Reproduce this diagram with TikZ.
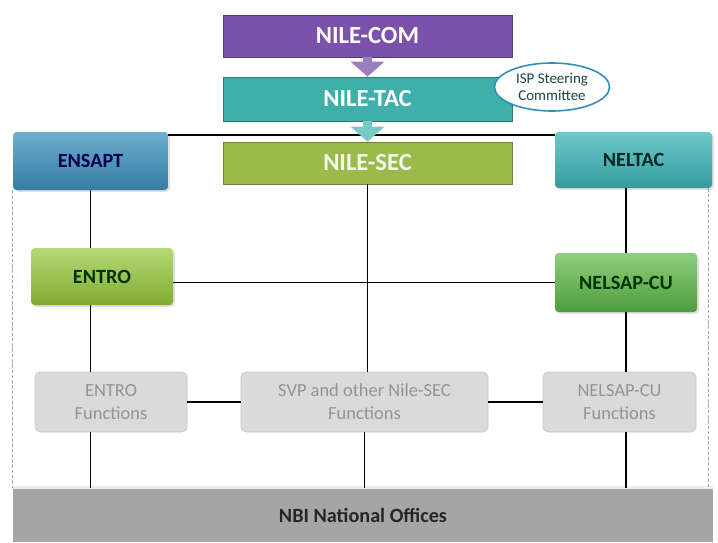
\documentclass[tikz,border=0pt]{standalone}
\usepackage{fontspec}
\setmainfont{Carlito}
\usepackage{tikz}
\usetikzlibrary{arrows.meta,shapes.geometric,shadows}
\definecolor{comviolet}{HTML}{7B52AB}
\definecolor{tacteal}{HTML}{3FB0A9}
\definecolor{secolive}{HTML}{9BBA4C}
\definecolor{ensblue}{HTML}{3F93BF}
\definecolor{nelteal}{HTML}{3DB7B8}
\definecolor{entgreen}{HTML}{97C93A}
\definecolor{nelgreen}{HTML}{5CB947}
\definecolor{fungray}{HTML}{DADADA}
\definecolor{nbigray}{HTML}{A5A5A5}
\def\px{0.02cm}
\def\drawlink{\draw[line width=1pt]}
\def\drawdash{\draw[gray!70, line width=0.6pt, dash pattern=on 2pt off 1pt]}
\tikzset{
  topbox/.style={rectangle, minimum width=289*\px, text=white,
    font=\fontsize{14}{16}\selectfont\bfseries},
  unitbox/.style={rectangle, rounded corners=2pt, inner sep=2pt,
    drop shadow={opacity=0.25, shadow xshift=1pt, shadow yshift=-1pt},
    font=\fontsize{11.5}{13}\selectfont\bfseries},
  funbox/.style={rectangle, rounded corners=3pt, fill=fungray, draw=gray!45,
    minimum height=60*\px, text=gray!85, align=center,
    font=\fontsize{10.5}{13}\selectfont},
  blockarrow/.style={line width=9*\px, -{Triangle[width=33*\px, length=15*\px]}}
}

\begin{document}
\begin{tikzpicture}[x=\px, y=-\px]
\useasboundingbox (0,0) rectangle (718,542);
% top column
\node[topbox, minimum height=42*\px, fill=comviolet, draw=comviolet!70!black] (com) at (367.5,36) {NILE-COM};
\node[topbox, minimum height=44*\px, fill=tacteal, draw=tacteal!70!black] (tac) at (367.5,99) {NILE-TAC};
\node[topbox, minimum height=42*\px, fill=secolive, draw=secolive!70!black, text=white!90!secolive] (sec) at (367.5,163) {NILE-SEC};
\node[ellipse, draw=tacteal!80!blue, line width=0.9pt, fill=white, minimum width=115*\px, minimum height=48*\px, inner sep=0pt, align=center, text=tacteal!40!black, font=\fontsize{8.5}{9.5}\selectfont] (isp) at (552,87) {ISP Steering\\Committee};

% side units
\node[unitbox, minimum width=155*\px, minimum height=58*\px, top color=ensblue!75!white, bottom color=ensblue!85!black, text=blue!30!black] (ensapt) at (90.5,161) {ENSAPT};
\node[unitbox, minimum width=157*\px, minimum height=56*\px, top color=nelteal!75!white, bottom color=nelteal!85!black, text=teal!30!black] (neltac) at (633.5,160) {NELTAC};
\node[unitbox, minimum width=142*\px, minimum height=57*\px, top color=entgreen!70!white, bottom color=entgreen!85!black, text=green!20!black] (entro) at (102,276.5) {ENTRO};
\node[unitbox, minimum width=142*\px, minimum height=59*\px, top color=nelgreen!70!white, bottom color=nelgreen!85!black, text=green!20!black] (nelsap) at (626,282.5) {NELSAP-CU};

% functions
\node[funbox, minimum width=152*\px] (entrof) at (111,402) {ENTRO\\Functions};
\node[funbox, minimum width=247*\px] (svp) at (364.5,402) {SVP and other Nile-SEC\\Functions};
\node[funbox, minimum width=153*\px] (nelsapf) at (619.5,402) {NELSAP-CU\\Functions};
\node[rectangle, fill=nbigray, minimum width=700*\px, minimum height=54*\px, text=black!85, font=\fontsize{11.5}{13}\selectfont\bfseries] (nbi) at (363,515) {NBI National Offices};
\draw[white!80!nbigray, line width=1.5pt] (nbi.north west) -- (nbi.north east);

% links
\drawlink ([yshift=-0.06cm]ensapt.north east) -- ([yshift=-0.06cm]neltac.north west);
\drawlink (sec.south) -- (sec.south |- svp.north);
\drawlink (ensapt.south) -- (ensapt.south |- entro.north);
\drawlink (ensapt.south |- entro.south) -- (ensapt.south |- entrof.north);
\drawlink (ensapt.south |- entrof.south) -- (ensapt.south |- nbi.north);
\drawlink (neltac.south -| nelsap.north) -- (nelsap.north);
\drawlink (nelsap.south) -- (nelsap.south |- nelsapf.north);
\drawlink (nelsap.south |- nelsapf.south) -- (nelsap.south |- nbi.north);
\drawlink (entro.east |- nelsap.west) -- (nelsap.west);
\drawlink (entrof.east) -- (svp.west);
\drawlink (svp.east) -- (nelsapf.west);
\drawlink (svp.south) -- (svp.south |- nbi.north);
\drawdash (ensapt.south west) -- (ensapt.south west |- nbi.north);
\drawdash ([xshift=-0.08cm]neltac.south east) -- ([xshift=-0.08cm]neltac.south east |- nbi.north);

% arrows
\draw[blockarrow, comviolet!75!white] (com.south) -- (tac.north);
\draw[blockarrow, tacteal!70!white] (tac.south) -- (sec.north);
\end{tikzpicture}
\end{document}
